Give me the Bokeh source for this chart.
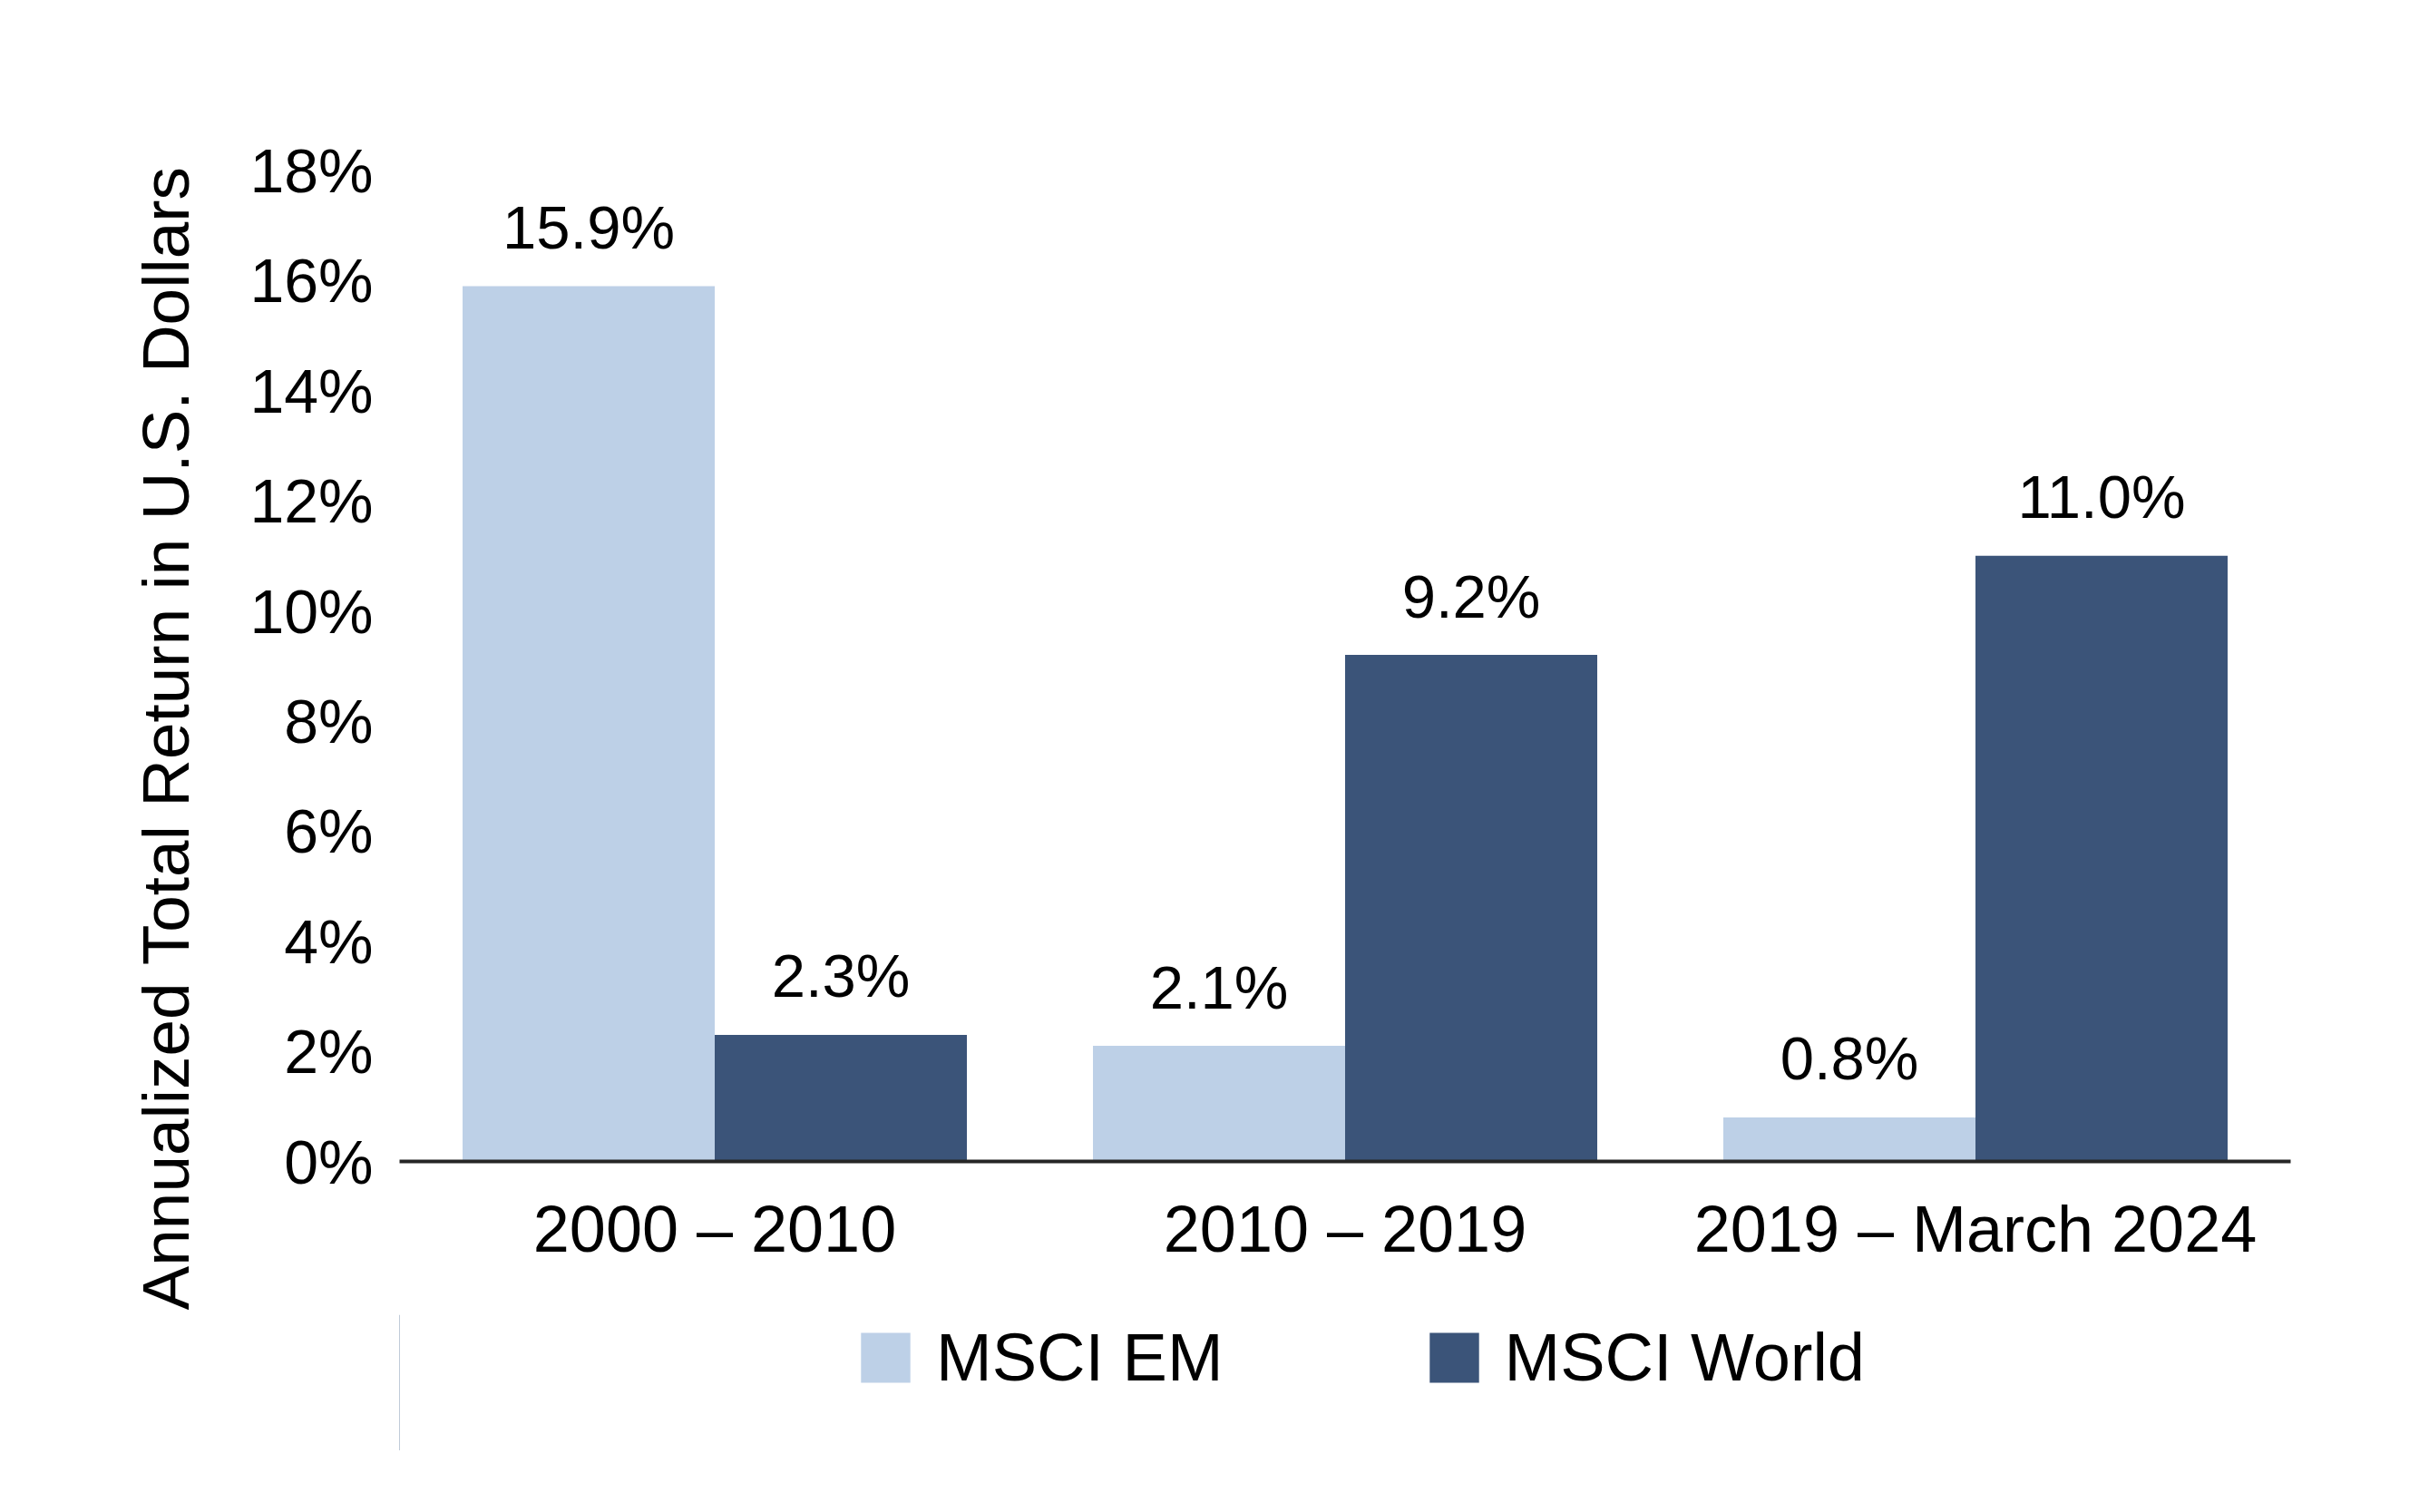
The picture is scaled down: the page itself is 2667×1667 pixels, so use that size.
from bokeh.plotting import figure
from bokeh.layouts import column
from bokeh.models import (ColumnDataSource, FactorRange, Range1d, FixedTicker,
                          PrintfTickFormatter, Legend, LegendItem, Title)
from bokeh.transform import dodge
from bokeh.core.properties import value
from bokeh.embed import file_html
from bokeh.resources import INLINE

periods = ["2000 \u2013 2010", "2010 \u2013 2019", "2019 \u2013 March 2024"]
msci_em = [15.9, 2.1, 0.8]
msci_world = [2.3, 9.2, 11.0]
y_ticks = [0, 2, 4, 6, 8, 10, 12, 14, 16, 18]
series_names = ["MSCI EM", "MSCI World"]
axis_title = "Annualized  Total Return in U.S. Dollars"

LIGHT = "#BDD0E7"
DARK = "#3B5479"
FONT = "Liberation Sans"

src = ColumnDataSource(dict(
    period=periods,
    em=msci_em,
    world=msci_world,
    em_lbl=[f"{v:.1f}%" for v in msci_em],
    world_lbl=[f"{v:.1f}%" for v in msci_world],
))

x_range = FactorRange(factors=periods, range_padding=0, factor_padding=0)
p = figure(width=2650, height=1449, x_range=x_range, y_range=Range1d(0, 18.6),
           output_backend="svg", toolbar_location=None,
           min_border_left=440, min_border_right=125,
           min_border_top=151, min_border_bottom=169)

r_em = p.vbar(x=dodge("period", -0.2, range=x_range), top="em", width=0.4,
              source=src, fill_color=LIGHT, line_color=None)
r_w = p.vbar(x=dodge("period", 0.2, range=x_range), top="world", width=0.4,
             source=src, fill_color=DARK, line_color=None)

for col, lbl, off in (("em", "em_lbl", -0.2), ("world", "world_lbl", 0.2)):
    p.text(x=dodge("period", off, range=x_range), y=col, text=lbl, source=src,
           text_align="center", text_baseline="alphabetic", y_offset=-65,
           text_font=value(FONT), text_font_size="67px", text_color="black")

# axes
p.xgrid.visible = False
p.ygrid.visible = False
p.outline_line_color = None
p.background_fill_color = "white"
p.border_fill_color = "white"

xa = p.xaxis[0]
xa.axis_line_color = "#262626"
xa.axis_line_width = 4
xa.major_tick_line_color = None
xa.minor_tick_line_color = None
xa.major_label_text_font = FONT
xa.major_label_text_font_size = "72px"
xa.major_label_text_color = "black"
xa.major_label_standoff = 28

ya = p.yaxis[0]
ya.ticker = FixedTicker(ticks=y_ticks)
ya.formatter = PrintfTickFormatter(format="%d%%")
ya.axis_line_color = None
ya.major_tick_line_color = None
ya.minor_tick_line_color = None
ya.major_label_text_font = FONT
ya.major_label_text_font_size = "68px"
ya.major_label_text_color = "black"
ya.major_label_standoff = 23

t = Title(text=axis_title, align="left", offset=-164, standoff=100,
          text_font=FONT, text_font_size="73px", text_font_style="normal",
          text_color="black")
p.add_layout(t, "left")

# legend strip below the chart (its frame is aligned with the chart's frame)
lg = figure(width=2650, height=150, x_range=Range1d(0, 1), y_range=Range1d(0, 1),
            x_axis_type=None, y_axis_type=None, output_backend="svg",
            toolbar_location=None, min_border=0)
lg.outline_line_color = None
lg.background_fill_color = None
lg.border_fill_color = None
lg.xgrid.visible = False
lg.ygrid.visible = False
em_proxy = lg.vbar(x=[-5], top=[1], width=0.1, fill_color=LIGHT, line_color=None)
w_proxy = lg.vbar(x=[-5], top=[1], width=0.1, fill_color=DARK, line_color=None)

legend = Legend(items=[LegendItem(label=series_names[0], renderers=[em_proxy]),
                       LegendItem(label=series_names[1], renderers=[w_proxy])],
                orientation="horizontal", location=(502, 60),
                glyph_width=68, glyph_height=69, label_standoff=22, spacing=220,
                label_text_font=FONT, label_text_font_size="74px",
                label_text_color="black", border_line_color=None,
                background_fill_alpha=0, padding=0, margin=0)
lg.add_layout(legend)

open("out.html", "w").write(file_html(column(p, lg), INLINE))
